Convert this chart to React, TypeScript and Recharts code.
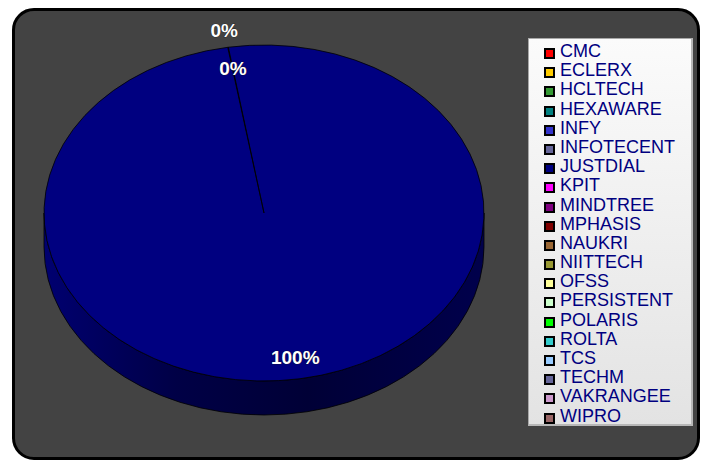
import { PieChart, Pie, Cell, Legend } from "recharts";

const categories = [
  "CMC", "ECLERX", "HCLTECH", "HEXAWARE", "INFY", "INFOTECENT", "JUSTDIAL",
  "KPIT", "MINDTREE", "MPHASIS", "NAUKRI", "NIITTECH", "OFSS", "PERSISTENT",
  "POLARIS", "ROLTA", "TCS", "TECHM", "VAKRANGEE", "WIPRO",
];

// share of each company (only JUSTDIAL is visible, two slivers round to 0%)
const shares = [0, 0, 3, 0, 2, 0, 9995, 0, 0, 0, 0, 0, 0, 0, 0, 0, 0, 0, 0, 0];

const colors = [
  "#ff0000", "#ffcc00", "#339933", "#008080", "#3333cc", "#666699", "#000080",
  "#ff00ff", "#800080", "#800000", "#996633", "#999933", "#ffff99", "#ccffcc",
  "#00ff00", "#33cccc", "#99ccff", "#666699", "#cc99cc", "#996666",
];

const data = categories.map((name, i) => ({ name, value: shares[i] }));

const RAD = Math.PI / 180;
const TILT = 168 / 220;
const DEPTH = 34;

function EllipseSector(props: any) {
  const { cx, cy, outerRadius, startAngle, endAngle, fill } = props;
  const rx = outerRadius;
  const ry = outerRadius * TILT;
  const pt = (a: number, dy = 0) => [cx + rx * Math.cos(a * RAD), cy - ry * Math.sin(a * RAD) + dy];
  const arc = (from: number, to: number, dy: number) => {
    const steps = Math.max(1, Math.ceil(Math.abs(to - from) / 90));
    let d = "";
    for (let i = 1; i <= steps; i++) {
      const [x, y] = pt(from + ((to - from) * i) / steps, dy);
      d += ` A ${rx} ${ry} 0 0 ${to < from ? 1 : 0} ${x} ${y}`;
    }
    return d;
  };
  if (Math.abs(endAngle - startAngle) < 1e-6) return null;

  const lo = Math.min(startAngle, endAngle);
  const hi = Math.max(startAngle, endAngle);
  const walls: string[] = [];
  for (const k of [-1, 0, 1]) {
    const a = Math.max(lo, -180 + 360 * k);
    const b = Math.min(hi, 360 * k);
    if (b > a) {
      const [x0, y0] = pt(b);
      const [x1, y1] = pt(a, DEPTH);
      walls.push(`M ${x0} ${y0}${arc(b, a, 0)} L ${x1} ${y1}${arc(a, b, DEPTH)} Z`);
    }
  }
  const [sx, sy] = pt(startAngle);
  const top = `M ${cx} ${cy} L ${sx} ${sy}${arc(startAngle, endAngle, 0)} Z`;

  return (
    <g>
      <defs>
        <linearGradient id="sideShade" x1="0" y1="0" x2="1" y2="0">
          <stop offset="0" stopColor="#000070" />
          <stop offset="0.3" stopColor="#000046" />
          <stop offset="0.6" stopColor="#000036" />
          <stop offset="1" stopColor="#00004c" />
        </linearGradient>
      </defs>
      {walls.map((d, i) => (
        <path key={i} d={d} fill="url(#sideShade)" stroke="#000" strokeWidth={0.8} />
      ))}
      <path d={top} fill={fill} stroke="#000" strokeWidth={0.8} />
    </g>
  );
}

const tinyIdx = shares.map((v, i) => (v > 0 && v < 100 ? i : -1)).filter((i) => i >= 0);

const renderLabel = (props: any) => {
  const { cx, cy, midAngle, outerRadius, percent, index } = props;
  if (!shares[index]) return null;
  let r = outerRadius * 0.87;
  if (tinyIdx[0] === index) r = outerRadius * 1.1;
  const x = cx + r * Math.cos(midAngle * RAD);
  const y = cy - r * TILT * Math.sin(midAngle * RAD);
  return (
    <text
      x={x}
      y={y}
      textAnchor="middle"
      dominantBaseline="central"
      fill="#fff"
      stroke="#1a1a1a"
      strokeWidth={0.7}
      paintOrder="stroke"
      fontFamily="Arial, 'Liberation Sans', sans-serif"
      fontWeight="bold"
      fontSize={19}
    >
      {`${Math.round(percent * 100)}%`}
    </text>
  );
};

const renderLegend = (props: any) => {
  const byName: Record<string, string> = {};
  (props.payload || []).forEach((p: any) => {
    byName[p.value] = p.color;
  });
  const items = categories.map((name, i) => ({ name, color: byName[name] || colors[i] }));
  return (
    <div
      style={{
        width: 165,
        height: 388,
        boxSizing: "border-box",
        border: "1px solid #a8a8a8",
        borderRight: "2px solid #b8b8b8",
        borderBottom: "2px solid #b8b8b8",
        background: "linear-gradient(#fbfbfb, #e3e3e3)",
        paddingTop: 3,
      }}
    >
      {items.map((it) => (
        <div key={it.name} style={{ position: "relative", height: 19.2, lineHeight: "19.2px" }}>
          <span
            style={{
              position: "absolute",
              left: 15,
              top: 6,
              width: 7,
              height: 7,
              border: "2px solid #000",
              background: it.color,
            }}
          />
          <span
            style={{
              position: "absolute",
              left: 31,
              top: 0,
              fontSize: 18,
              color: "#000080",
              whiteSpace: "nowrap",
            }}
          >
            {it.name}
          </span>
        </div>
      ))}
    </div>
  );
};

export default function App() {
  return (
    <div
      style={{
        position: "absolute",
        left: 0,
        top: 0,
        width: 701,
        height: 462,
        background: "#fff",
        fontFamily: "Arial, 'Liberation Sans', sans-serif",
        overflow: "hidden",
      }}
    >
      <div
        style={{
          position: "absolute",
          left: 12,
          top: 8,
          width: 688,
          height: 452,
          boxSizing: "border-box",
          border: "3px solid #000",
          borderRadius: 22,
          background: "#434343",
        }}
      />
      <PieChart
        width={701}
        height={462}
        margin={{ top: 0, right: 0, bottom: 0, left: 0 }}
        style={{ position: "absolute", left: 0, top: 0 }}
      >
        <Pie
          data={data}
          dataKey="value"
          nameKey="name"
          cx={264}
          cy={213}
          outerRadius={220}
          startAngle={99.5}
          endAngle={-260.5}
          stroke="none"
          labelLine={false}
          label={renderLabel}
          shape={EllipseSector}
          inactiveShape={EllipseSector}
          activeShape={EllipseSector}
          isAnimationActive={false}
        >
          {data.map((d, i) => (
            <Cell key={d.name} fill={colors[i]} />
          ))}
        </Pie>
        <Legend
          layout="vertical"
          align="right"
          verticalAlign="top"
          content={renderLegend}
          wrapperStyle={{ position: "absolute", left: 528, top: 38, width: 165, height: 388 }}
        />
      </PieChart>
    </div>
  );
}
